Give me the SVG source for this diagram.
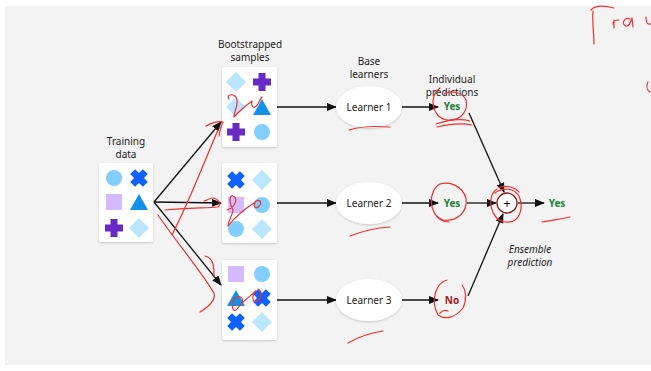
<svg xmlns="http://www.w3.org/2000/svg" width="651" height="371" viewBox="0 0 651 371">
<defs>
<marker id="ah" markerWidth="10" markerHeight="8" refX="9" refY="4" orient="auto" markerUnits="userSpaceOnUse"><path d="M0,0 L10,4 L0,8 z" fill="#111"/></marker>
<filter id="sh" x="-20%" y="-20%" width="140%" height="140%"><feDropShadow dx="0" dy="1" stdDeviation="1.2" flood-color="#000" flood-opacity="0.18"/></filter>
<g id="circ"><circle r="8" fill="#82cfff"/></g>
<g id="cross"><path d="M-3.5,-9 h7 v5.5 h5.5 v7 h-5.5 v5.5 h-7 v-5.5 h-5.5 v-7 h5.5 z" fill="#0f62fe" transform="rotate(45)"/></g>
<g id="plus"><path d="M-3.5,-9 h7 v5.5 h5.5 v7 h-5.5 v5.5 h-7 v-5.5 h-5.5 v-7 h5.5 z" fill="#6929c4"/></g>
<g id="sq"><rect x="-8" y="-8" width="16" height="16" fill="#d4bbff"/></g>
<g id="tri"><path d="M0,-8 L9,8 L-9,8 z" fill="#1192e8"/></g>
<g id="dia"><path d="M0,-10 L10,0 L0,10 L-10,0 z" fill="#bae6ff"/></g>
</defs>
<style>
.t{font-family:"Noto Sans","Liberation Sans",sans-serif;font-size:10px;fill:#222;text-anchor:middle}
.card{fill:#fff;filter:url(#sh)}
.lrn{fill:#fff;filter:url(#sh)}
.c{stroke:#111;stroke-width:1.3;fill:none;marker-end:url(#ah)}
.yes{font-family:"Noto Sans","Liberation Sans",sans-serif;font-size:10px;font-weight:bold;fill:#24803a;text-anchor:middle}
.no{font-family:"Noto Sans","Liberation Sans",sans-serif;font-size:10px;font-weight:bold;fill:#a2191f;text-anchor:middle}
.r{stroke:#f03030;stroke-width:1.2;fill:none;stroke-linecap:round;stroke-linejoin:round}
</style>
<rect x="5" y="6" width="646" height="359" fill="#f3f3f3"/>

<g id="connectors">
<path class="c" d="M154,202 L221,122"/>
<path class="c" d="M154,202 L221,203"/>
<path class="c" d="M154,202 L221,285"/>
<path class="c" d="M277,107 L336,107"/>
<path class="c" d="M277,203 L336,203"/>
<path class="c" d="M277,300 L336,300"/>
<path class="c" d="M402,107 L438,107"/>
<path class="c" d="M402,203 L438,203"/>
<path class="c" d="M402,300 L438,300"/>
<path class="c" d="M467,203 L496,203"/>
<path class="c" d="M469,113 L504,192"/>
<path class="c" d="M468,296 L503,214"/>
<path class="c" d="M518,203 L544,203"/>
</g>

<g id="training">
<text class="t" x="126" y="145">Training</text>
<text class="t" x="126" y="158">data</text>
<rect class="card" x="99" y="163" width="54" height="79" rx="2"/>
<use href="#circ" x="114" y="178"/><use href="#cross" x="139" y="178"/>
<use href="#sq" x="114" y="202"/><use href="#tri" x="139" y="202"/>
<use href="#plus" x="114" y="228"/><use href="#dia" x="139" y="228"/>
</g>

<g id="sample1">
<text class="t" x="250" y="48">Bootstrapped</text>
<text class="t" x="250" y="61">samples</text>
<rect class="card" x="222" y="67" width="55" height="80" rx="2"/>
<use href="#dia" x="236" y="82"/><use href="#plus" x="262" y="82"/>
<use href="#dia" x="236" y="107"/><use href="#tri" x="262" y="107"/>
<use href="#plus" x="236" y="132"/><use href="#circ" x="262" y="132"/>
</g>
<g id="sample2">
<rect class="card" x="222" y="163" width="55" height="80" rx="2"/>
<use href="#cross" x="236" y="180"/><use href="#dia" x="262" y="180"/>
<use href="#sq" x="236" y="205"/><use href="#circ" x="262" y="205"/>
<use href="#circ" x="236" y="229"/><use href="#dia" x="262" y="229"/>
</g>
<g id="sample3">
<rect class="card" x="222" y="260" width="55" height="80" rx="2"/>
<use href="#sq" x="236" y="274"/><use href="#circ" x="262" y="274"/>
<use href="#tri" x="236" y="298"/><use href="#cross" x="262" y="298"/>
<use href="#cross" x="236" y="322"/><use href="#dia" x="262" y="322"/>
</g>

<g id="learner1">
<text class="t" x="369" y="65">Base</text>
<text class="t" x="369" y="78">learners</text>
<ellipse class="lrn" cx="369" cy="107" rx="33" ry="21"/>
<text class="t" x="369" y="111">Learner 1</text>
</g>
<g id="learner2"><ellipse class="lrn" cx="369" cy="203" rx="33" ry="21"/><text class="t" x="369" y="207">Learner 2</text></g>
<g id="learner3"><ellipse class="lrn" cx="369" cy="300" rx="33" ry="21"/><text class="t" x="369" y="304">Learner 3</text></g>

<g id="pred1">
<text class="t" x="452" y="83">Individual</text>
<text class="t" x="452" y="96">predictions</text>
<text class="yes" x="452" y="110">Yes</text>
</g>
<g id="pred2"><text class="yes" x="452" y="207">Yes</text></g>
<g id="pred3"><text class="no" x="452" y="304">No</text></g>

<g id="ensemble">
<circle cx="507" cy="203" r="10" fill="#fff" stroke="#8a1a1a" stroke-width="1.3"/>
<text x="507" y="207.5" font-family="Noto Sans, Liberation Sans, sans-serif" font-size="13" fill="#111" text-anchor="middle">+</text>
<text x="530" y="253" font-family="Noto Sans, Liberation Sans, sans-serif" font-size="10" font-style="italic" fill="#222" text-anchor="middle">Ensemble</text>
<text x="530" y="266" font-family="Noto Sans, Liberation Sans, sans-serif" font-size="10" font-style="italic" fill="#222" text-anchor="middle">prediction</text>
</g>
<g id="result"><text class="yes" x="557" y="207">Yes</text></g>

<g id="annotations">
<path class="r" d="M591,10 C596,4 606,6 614,8"/>
<path class="r" d="M593,11 C592,22 594,34 594,44"/>
<path class="r" d="M613,24 C613,21 615,20 619,20 M614,20 L614,28"/>
<path class="r" d="M630,19 C624,16 621,25 626,26 C630,27 631,20 632,18 L633,27 M646,17 C646,22 647,25 651,24"/>
<path class="r" d="M648,82 C646,86 647,90 650,92"/>
<path class="r" d="M229,99 C226,95 232,93 236,97 C240,104 233,113 234,117 C240,110 248,104 252,101 C251,107 254,110 258,104 C260,100 261,98 262,97"/>
<path class="r" d="M440,88 C428,96 432,118 447,120 C464,121 468,108 466,100 C463,92 450,90 444,94"/>
<path class="r" d="M436,124 C448,120 460,118 470,121 M437,127 C450,124 462,123 472,125"/>
<path class="r" d="M349,130 C358,127 375,126 390,127"/>
<path class="r" d="M172,235 C190,200 205,160 218,130 M206,126 C212,123 219,121 223,122 C221,126 220,130 219,136"/>
<path class="r" d="M165,210 C185,208 205,208 218,207 C222,204 218,198 212,198 C208,199 208,200 204,201"/>
<path class="r" d="M158,215 C175,240 200,270 212,290 C218,296 212,305 200,312 M205,256 C214,258 214,268 214,276"/>
<path class="r" d="M227,210 C236,207 238,198 233,196 C228,195 230,205 233,210 C232,216 228,222 228,226 C236,216 246,208 254,203 C258,198 262,201 260,205 C257,210 252,207 255,203"/>
<path class="r" d="M350,236 C360,232 375,228 390,227"/>
<path class="r" d="M440,184 C428,190 428,215 443,220 C457,222 468,212 466,198 C462,186 450,181 440,184 M435,214 C438,219 443,222 449,222"/>
<path class="r" d="M497,189 C486,196 490,220 505,222 C520,224 524,208 519,196 C514,188 503,187 495,193 M500,187 C508,185 516,188 519,192"/>
<path class="r" d="M542,222 C552,220 562,219 570,217"/>
<path class="r" d="M242,303 C244,297 238,293 233,301 C231,308 234,313 237,309 C242,302 250,296 256,291 M258,289 C262,290 262,300 256,302 C252,302 252,295 255,291"/>
<path class="r" d="M348,343 C358,337 370,333 383,331"/>
<path class="r" d="M447,280 C436,283 430,300 438,315 C445,320 455,318 463,308 C467,300 466,290 462,285 M440,313 C443,310 446,310 448,311"/>
</g>
</svg>
